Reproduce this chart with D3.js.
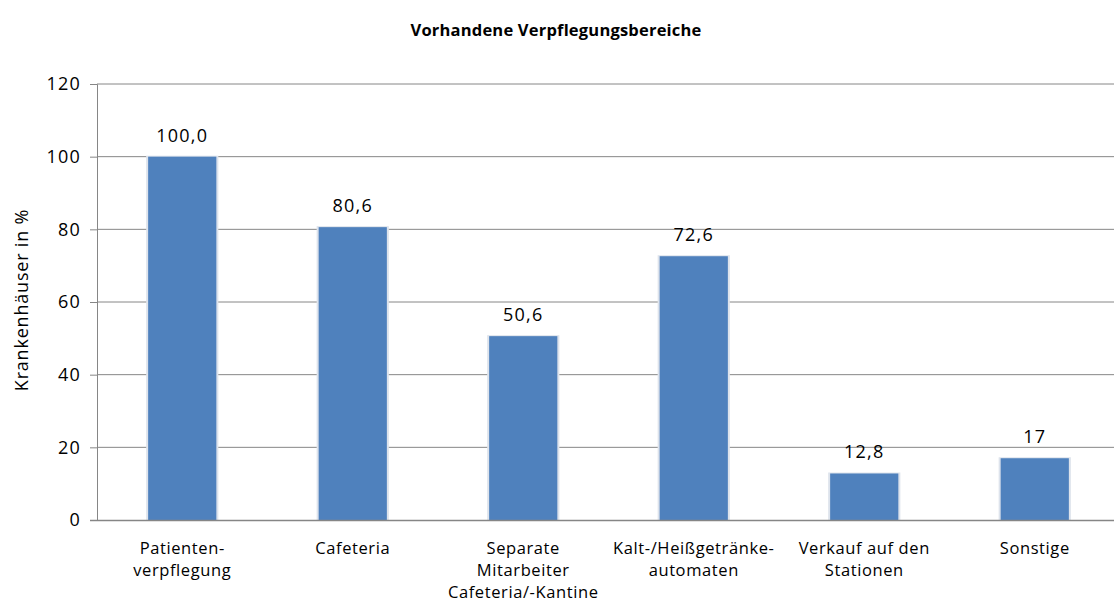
<!DOCTYPE html>
<html>
<head>
<meta charset="utf-8">
<script src="https://cdn.jsdelivr.net/npm/d3@7"></script>
<style>
  body { margin: 0; background: #fff; }
  svg text { font-family: "Open Sans", sans-serif; fill: #000; }
</style>
</head>
<body>
<svg id="vis-svg"></svg>
<script>
// data
const categories = [
    ["Patienten-", "verpflegung"],
    ["Cafeteria"],
    ["Separate", "Mitarbeiter", "Cafeteria/-Kantine"],
    ["Kalt-/Heißgetränke-", "automaten"],
    ["Verkauf auf den", "Stationen"],
    ["Sonstige"]
];
const values = [100.0, 80.6, 50.6, 72.6, 12.8, 17];
const valueLabels = ["100,0", "80,6", "50,6", "72,6", "12,8", "17"];
const yTicks = [0, 20, 40, 60, 80, 100, 120];

const titleText = "Vorhandene Verpflegungsbereiche",
    yLabelText = "Krankenhäuser in %";

let margin = { top: 84, right: -6, bottom: 90, left: 97 },
    fullW = 1114, fullH = 610,
    width = fullW - margin.left - margin.right,
    height = fullH - margin.top - margin.bottom;

const svg0 = d3.select("#vis-svg")
    .attr("width", fullW)
    .attr("height", fullH);

const svg = svg0.append("g")
    .attr("transform", "translate(" + margin.left + "," + margin.top + ")");

const idx = categories.map((d, i) => i);
const x = d3.scaleBand().domain(idx).range([0, width]).paddingInner(0.6).paddingOuter(0.3),
    y = d3.scaleLinear().domain([0, 120]).range([height, 0]);

// gridlines
svg.selectAll(".grid")
    .data(yTicks.filter(t => t > 0))
    .enter().append("line")
    .attr("x1", 0)
    .attr("x2", fullW)
    .attr("y1", d => y(d))
    .attr("y2", d => y(d))
    .attr("stroke", "#868686")
    .attr("stroke-width", 1);

// y axis
let yAxis = svg.append("g")
    .call(d3.axisLeft(y).tickValues(yTicks).tickSize(7).tickPadding(9));
yAxis.select(".domain").attr("stroke", "#868686");
yAxis.selectAll(".tick line").attr("stroke", "#868686");
yAxis.selectAll("text")
    .style("font-size", "18px")
    .style("letter-spacing", "1.2px")
    .attr("fill", "#000");

// bars with faint light edge
svg.selectAll(".bar-edge")
    .data(values)
    .enter().append("rect")
    .attr("x", (d, i) => x(i) - 2)
    .attr("y", d => y(d) - 1)
    .attr("width", x.bandwidth() + 4)
    .attr("height", d => height - y(d) + 1)
    .attr("fill", "#dde3ec");

svg.selectAll(".bar")
    .data(values)
    .enter().append("rect")
    .attr("x", (d, i) => x(i))
    .attr("y", d => y(d))
    .attr("width", x.bandwidth())
    .attr("height", d => height - y(d))
    .attr("fill", "#4f81bd");

// x axis line
svg.append("line")
    .attr("x1", -7)
    .attr("x2", fullW)
    .attr("y1", height + 0.5)
    .attr("y2", height + 0.5)
    .attr("stroke", "#868686")
    .attr("stroke-width", 1.5);

// value labels
svg.selectAll(".val")
    .data(values)
    .enter().append("text")
    .attr("x", (d, i) => x(i) + x.bandwidth() / 2)
    .attr("y", d => y(d) - 15)
    .attr("text-anchor", "middle")
    .style("font-size", "18px")
    .style("letter-spacing", "1.2px")
    .text((d, i) => valueLabels[i]);

// category labels
const cat = svg.selectAll(".cat")
    .data(categories)
    .enter().append("text")
    .attr("text-anchor", "middle")
    .attr("transform", (d, i) => "translate(" + (x(i) + x.bandwidth() / 2) + "," + (height + 34) + ")")
    .style("font-size", "16.5px")
    .style("letter-spacing", "0.6px");
cat.selectAll("tspan")
    .data(d => d)
    .enter().append("tspan")
    .attr("x", 0)
    .attr("y", (d, j) => j * 22)
    .text(d => d);

// title
svg0.append("text")
    .attr("x", 556)
    .attr("y", 36)
    .attr("text-anchor", "middle")
    .style("font-size", "16.5px")
    .style("font-weight", "bold")
    .style("letter-spacing", "0.2px")
    .text(titleText);

// y axis label
svg0.append("text")
    .attr("transform", "rotate(-90)")
    .attr("x", -300)
    .attr("y", 28)
    .attr("text-anchor", "middle")
    .style("font-size", "18px")
    .style("letter-spacing", "0.8px")
    .text(yLabelText);
</script>
</body>
</html>
